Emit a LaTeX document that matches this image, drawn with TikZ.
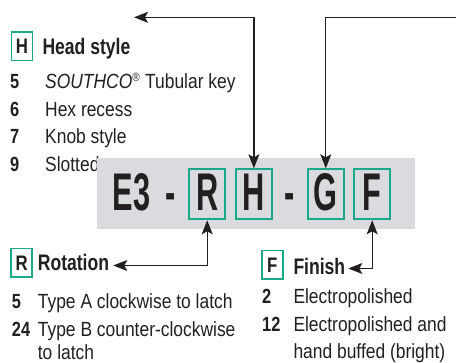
\documentclass[tikz,border=0pt]{standalone}
\usepackage{fontspec}
\setmainfont{Liberation Sans}[FakeStretch=0.85]
\newfontfamily\hdfont{Liberation Sans}[FakeStretch=0.78]
\newfontfamily\numfont{Liberation Sans}[FakeStretch=0.8]
\newfontfamily\codefont{Liberation Sans}[FakeStretch=0.58]
\usetikzlibrary{arrows.meta}
\definecolor{ink}{RGB}{35,31,32}
\definecolor{brand}{RGB}{26,168,140}
\definecolor{graybg}{RGB}{217,219,222}
\begin{document}
\begin{tikzpicture}[x=1pt,y=-1pt,
  txt/.style={anchor=base west, inner sep=0pt, text=ink, font=\fontsize{20.5}{20.5}\selectfont},
  num/.style={anchor=base west, inner sep=0pt, text=ink, font=\numfont\bfseries\fontsize{20.5}{20.5}\selectfont},
  hd/.style={anchor=base west, inner sep=0pt, text=ink, font=\hdfont\bfseries\fontsize{22.5}{22.5}\selectfont},
  sbox/.style={draw=brand, line width=1.6pt, minimum width=21pt, minimum height=28.5pt, inner sep=0pt, text=ink, font=\numfont\bfseries\fontsize{21}{21}\selectfont},
  cbox/.style={draw=brand, line width=2pt, minimum width=35.5pt, minimum height=50pt, inner sep=0pt},
  code/.style={anchor=base, inner sep=0pt, text=ink, font=\codefont\bfseries\fontsize{53}{53}\selectfont},
  arr/.style={line width=1.3pt, draw=ink, {Stealth[length=14pt,width=11pt,inset=3pt]}-{Stealth[length=14pt,width=11pt,inset=3pt]}},
  arrend/.style={line width=1.3pt, draw=ink, -{Stealth[length=14pt,width=11pt,inset=3pt]}}
]
\useasboundingbox (0,0) rectangle (456,363);
\clip (0,0) rectangle (456,363);

% Head style section
\node[sbox] (hb) at (21.9,46.2) {H};
\node[hd] (headt) at (42.3,54.3) {Head style};
\node[num] (hn5) at (10,89) {5};
\node[txt] (ht5) at (45,89) {\textit{SOUTHCO}\textsuperscript{\fontsize{12}{12}\selectfont ®} Tubular key};
\node[num] (hn6) at (10,116.5) {6};
\node[txt] (ht6) at (45,116.5) {Hex recess};
\node[num] (hn7) at (10,144) {7};
\node[txt] (ht7) at (45,144) {Knob style};
\node[num] (hn9) at (10,171.5) {9};
\node[txt] (ht9) at (45,171.5) {Slotted};

% code band
\fill[graybg] (97,158) rectangle (415,229.3);
\node[code, anchor=base west] (e3) at (112.7,211) {E3};
\node[code] (d1) at (171,211) {-};
\node[cbox] (rb) at (207.2,194.3) {};
\node[code] (rl) at (207.2,211) {R};
\node[cbox] (hbb) at (253.9,194.3) {};
\node[code] (hl) at (253.9,211) {H};
\node[code] (d2) at (290,211) {-};
\node[cbox] (gb) at (325.8,194.3) {};
\node[code] (gl) at (325.8,211) {G};
\node[cbox] (fb) at (372.2,194.3) {};
\node[code] (fl) at (372.2,211) {F};

% Rotation section
\node[sbox] (rsb) at (21.7,262.8) {R};
\node[hd] (rott) at (37.7,270.7) {Rotation};
\node[num] (rn5) at (11.7,308.3) {5};
\node[txt] (rt5) at (37.7,308.3) {Type A clockwise to latch};
\node[num] (rn24) at (11.7,336.5) {24};
\node[txt] (rt24) at (37.7,336.5) {Type B counter-clockwise};
\node[txt] (rt24b) at (37.7,359.5) {to latch};

% Finish section
\node[sbox] (fsb) at (272.2,264.8) {F};
\node[hd] (fint) at (293.3,275) {Finish};
\node[num] (fn2) at (262,303.3) {2};
\node[txt] (ft2) at (293.3,303.3) {Electropolished};
\node[num] (fn12) at (262,331.7) {12};
\node[txt] (ft12) at (293.3,331.7) {Electropolished and};
\node[txt] (ft12b) at (293.3,358.3) {hand buffed (bright)};

% connectors
\coordinate (headtip) at (134,17.3);
\coordinate (gfar) at (470,17.3);
\coordinate (rottip) at (113.3,265.5);
\coordinate (fintip) at (348.3,268.5);
\draw[arr] (headtip) -| (hbb.north);
\draw[arrend] (gfar) -| (gb.north);
\draw[arr] (rottip) -| (rb.south);
\draw[arr] (fintip) -| (fb.south);
\end{tikzpicture}
\end{document}
